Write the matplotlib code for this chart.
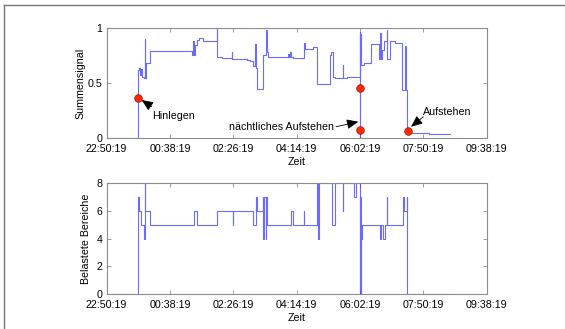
import numpy as np
import matplotlib
matplotlib.use('Agg')
import matplotlib.pyplot as plt
from matplotlib.lines import Line2D

plt.rcParams['font.family'] = ['Liberation Sans', 'DejaVu Sans']

# ── data (x = minutes after 22:50:19) ─────────────────────────────────────────
XTICK_LABELS = ["22:50:19", "00:38:19", "02:26:19", "04:14:19",
                "06:02:19", "07:50:19", "09:38:19"]
TICK_STEP = 108  # minutes between ticks

# Summensignal, step changes (post)
sum_t = [0, 53.9, 55.0, 56.5, 58.0, 59.5, 63.5, 64.8, 65.6, 66.5, 73.9,
         144.9, 147.5, 148.5, 150.6, 153.5, 157.0, 163.7, 188.0, 188.8,
         196.0, 213.0, 213.8, 238.7, 244.4, 250.1, 253.0, 253.8, 255.8,
         267.2, 271.8, 272.6, 275.7, 309.8, 311.0, 312.0, 313.5, 318.4,
         336.6, 337.5, 352.5, 358.1, 380.9, 382.0, 386.5, 389.4, 403.0,
         403.8, 409.3, 431.5, 432.0, 432.6, 433.7, 439.4, 450.8, 464.4,
         466.5, 467.2, 469.0, 473.5, 478.1, 478.8, 483.2, 491.7, 503.1,
         508.8, 509.6, 512.5, 550.0, 585.5]
sum_v = [0.00, 0.62, 0.64, 0.58, 0.63, 0.56, 0.55, 0.90, 0.55, 0.68, 0.79,
         0.76, 0.88, 0.76, 0.85, 0.89, 0.91, 0.88, 1.00, 0.74,
         0.73, 0.78, 0.72, 0.71, 0.70, 0.66, 0.86, 0.64, 0.45,
         0.76, 0.98, 0.78, 0.74, 0.77, 0.74, 0.78, 0.74, 0.73,
         0.87, 0.81, 0.83, 0.49, 0.76, 0.78, 0.56, 0.55, 0.67,
         0.55, 0.56, 0.97, 0.00, 0.95, 0.67, 0.68, 0.86, 0.72,
         0.96, 0.72, 0.80, 0.88, 0.98, 0.72, 0.88, 0.87, 0.44,
         0.84, 0.44, 0.045, 0.036, 0.036]

# Belastete Bereiche, step changes (post)
bel_t = [0, 53.9, 54.6, 58.5, 64.2, 64.9, 65.9, 73.9, 149.5, 154.6, 188.7,
         214.8, 215.5, 249.0, 255.2, 255.9, 266.6, 267.4, 268.0, 271.0,
         272.0, 273.0, 315.0, 318.4, 336.5, 337.3, 358.2, 359.5, 361.0,
         361.8, 383.7, 389.4, 402.4, 403.2, 422.3, 425.1, 431.6, 432.3,
         433.0, 434.0, 434.8, 466.1, 467.8, 471.2, 474.0, 477.5, 478.2,
         505.9, 506.6, 512.0, 512.7, 585.5]
bel_v = [0, 7, 6, 5, 4, 8, 6, 5, 6, 5, 6,
         5, 6, 5, 7, 6, 7, 4, 7, 4,
         7, 5, 6, 5, 6, 5, 8, 7, 4,
         8, 5, 8, 6, 8, 7, 8, 0, 7,
         0, 4, 5, 4, 5, 4, 5, 7, 5,
         7, 6, 7, 0, 0]

# event markers
ev_t = [53.9, 432.0, 432.0, 513.2]
ev_v = [0.37, 0.455, 0.08, 0.066]

LINE_COLOR = "#3a3aff"
SPINE_COLOR = "#8c8c8c"
FS = 7.7

fig = plt.figure(figsize=(5.65, 3.29), dpi=100)
ax1 = fig.add_axes([0.1888, 0.5796, 0.6726, 0.3344])
ax2 = fig.add_axes([0.1888, 0.1064, 0.6726, 0.3365])

xmax = TICK_STEP * (len(XTICK_LABELS) - 1)

ax1.step(sum_t, sum_v, where="post", color=LINE_COLOR, lw=0.8, alpha=0.75)
ax1.plot(ev_t, ev_v, "o", color="#ff2a00", mec="#a01000", mew=0.5, ms=5.5)
ax1.set_ylim(0, 1)
ax1.set_yticks([0, 0.5, 1])
ax1.set_yticklabels(["0", "0.5", "1"])
ax1.set_ylabel("Summensignal", fontsize=FS, labelpad=2)

ax2.step(bel_t, bel_v, where="post", color=LINE_COLOR, lw=0.8, alpha=0.75)
ax2.set_ylim(0, 8)
ax2.set_yticks([0, 2, 4, 6, 8])
ax2.set_ylabel("Belastete Bereiche", fontsize=FS, labelpad=4)

for ax in (ax1, ax2):
    ax.set_xlim(0, xmax)
    ax.set_xticks(np.arange(len(XTICK_LABELS)) * TICK_STEP)
    ax.set_xticklabels(XTICK_LABELS)
    ax.set_xlabel("Zeit", fontsize=FS, labelpad=2.5)
    ax.tick_params(direction="in", top=True, right=True, length=3,
                   width=0.6, color=SPINE_COLOR, labelsize=FS)
    ax.tick_params(axis="x", pad=4)
    ax.tick_params(axis="y", pad=3)
    for s in ax.spines.values():
        s.set_color(SPINE_COLOR)
        s.set_linewidth(0.8)

# annotations
arrow = dict(arrowstyle="-|>,head_length=0.7,head_width=0.3", color="black",
             lw=0.6, shrinkA=0, shrinkB=0)
ax1.annotate("", xy=(59.7, 0.348), xytext=(76.7, 0.287), arrowprops=arrow)
ax1.text(76.7, 0.206, "Hinlegen", fontsize=FS, va="center", ha="left")
ax1.annotate("", xy=(429, 0.151), xytext=(391, 0.105), arrowprops=arrow)
ax1.text(209, 0.103, "nächtliches Aufstehen", fontsize=FS, va="center", ha="left")
ax1.annotate("", xy=(519, 0.105), xytext=(540, 0.196), arrowprops=arrow)
ax1.text(540, 0.235, "Aufstehen", fontsize=FS, va="center", ha="left")

# outer frame (bottom/right lie outside the image)
fx, fy = 3.7 / 565, 1 - 4.5 / 329
fig.add_artist(Line2D([fx, 1.01], [fy, fy], color="#777777", lw=1.0))
fig.add_artist(Line2D([fx, fx], [-0.01, fy], color="#777777", lw=1.0))

fig.savefig("out.png", dpi=100, facecolor="white")
